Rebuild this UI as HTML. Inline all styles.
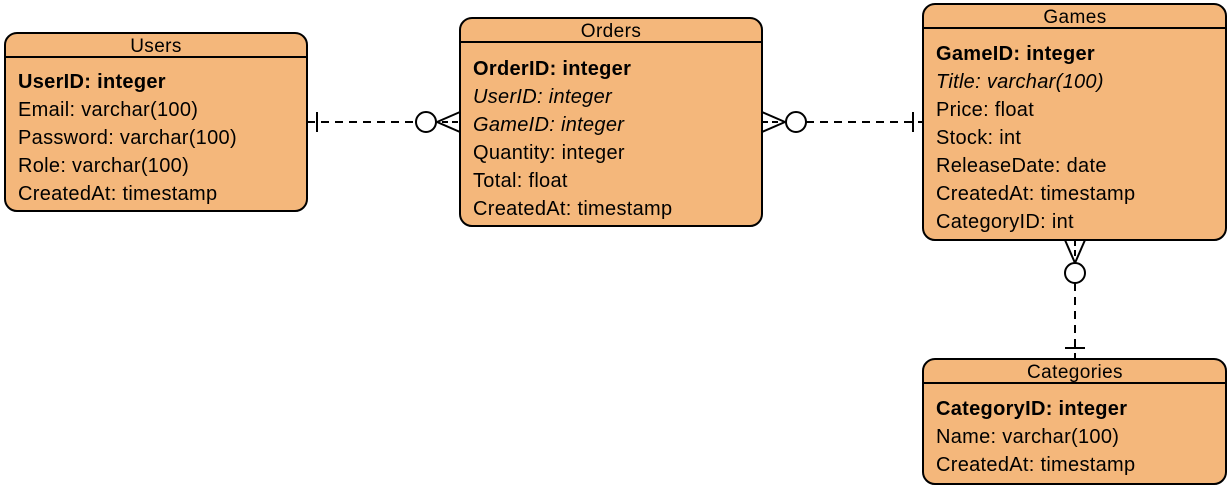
<!DOCTYPE html>
<html><head><style>
html,body{margin:0;padding:0;background:#fff;}
svg text{font-family:"Liberation Sans",Arial,sans-serif;font-size:20px;letter-spacing:0.3px;fill:#000;}
svg text.t{font-size:19px;letter-spacing:0.4px;}
</style></head><body>
<svg width="1228" height="486" viewBox="0 0 1228 486" xmlns="http://www.w3.org/2000/svg">
<g stroke="#000" stroke-width="2" fill="#f4b77b">
<rect x="5" y="33" width="302" height="178" rx="12"/>
<line x1="5" y1="57" x2="307" y2="57"/>
<rect x="460" y="18" width="302" height="208" rx="12"/>
<line x1="460" y1="42" x2="762" y2="42"/>
<rect x="923" y="4" width="303" height="236" rx="12"/>
<line x1="923" y1="28" x2="1226" y2="28"/>
<rect x="923" y="359" width="303" height="125" rx="12"/>
<line x1="923" y1="383" x2="1226" y2="383"/>
</g>
<g text-anchor="middle">
<text class="t" x="156" y="52">Users</text>
<text class="t" x="611" y="37">Orders</text>
<text class="t" x="1075" y="23">Games</text>
<text class="t" x="1075" y="378">Categories</text>
</g>
<text x="18" y="88" font-weight="bold">UserID: integer</text>
<text x="18" y="116">Email: varchar(100)</text>
<text x="18" y="144">Password: varchar(100)</text>
<text x="18" y="172">Role: varchar(100)</text>
<text x="18" y="200">CreatedAt: timestamp</text>

<text x="473" y="75" font-weight="bold">OrderID: integer</text>
<text x="473" y="103" font-style="italic">UserID: integer</text>
<text x="473" y="131" font-style="italic">GameID: integer</text>
<text x="473" y="159">Quantity: integer</text>
<text x="473" y="187">Total: float</text>
<text x="473" y="215">CreatedAt: timestamp</text>

<text x="936" y="60" font-weight="bold">GameID: integer</text>
<text x="936" y="88" font-style="italic">Title: varchar(100)</text>
<text x="936" y="116">Price: float</text>
<text x="936" y="144">Stock: int</text>
<text x="936" y="172">ReleaseDate: date</text>
<text x="936" y="200">CreatedAt: timestamp</text>
<text x="936" y="228">CategoryID: int</text>

<text x="936" y="415" font-weight="bold">CategoryID: integer</text>
<text x="936" y="443">Name: varchar(100)</text>
<text x="936" y="471">CreatedAt: timestamp</text>

<g stroke="#000" stroke-width="2" fill="none">
<line x1="307" y1="122" x2="416" y2="122" stroke-dasharray="8,6"/>
<line x1="317" y1="112" x2="317" y2="132"/>
<circle cx="426" cy="122" r="10" fill="#fff"/>
<line x1="437" y1="122" x2="460" y2="112"/>
<line x1="437" y1="122" x2="460" y2="132"/>
<line x1="442" y1="122" x2="460" y2="122" stroke-dasharray="6,4"/>

<line x1="806" y1="122" x2="923" y2="122" stroke-dasharray="8,6"/>
<line x1="913" y1="112" x2="913" y2="132"/>
<circle cx="796" cy="122" r="10" fill="#fff"/>
<line x1="785" y1="122" x2="762" y2="112"/>
<line x1="785" y1="122" x2="762" y2="132"/>
<line x1="762" y1="122" x2="780" y2="122" stroke-dasharray="6,4"/>

<line x1="1075" y1="283" x2="1075" y2="359" stroke-dasharray="8,6"/>
<line x1="1065" y1="348" x2="1085" y2="348"/>
<circle cx="1075" cy="273" r="10" fill="#fff"/>
<line x1="1075" y1="263" x2="1065" y2="240"/>
<line x1="1075" y1="263" x2="1085" y2="240"/>
<line x1="1075" y1="240" x2="1075" y2="256" stroke-dasharray="6,4"/>
</g>
</svg>
</body></html>
